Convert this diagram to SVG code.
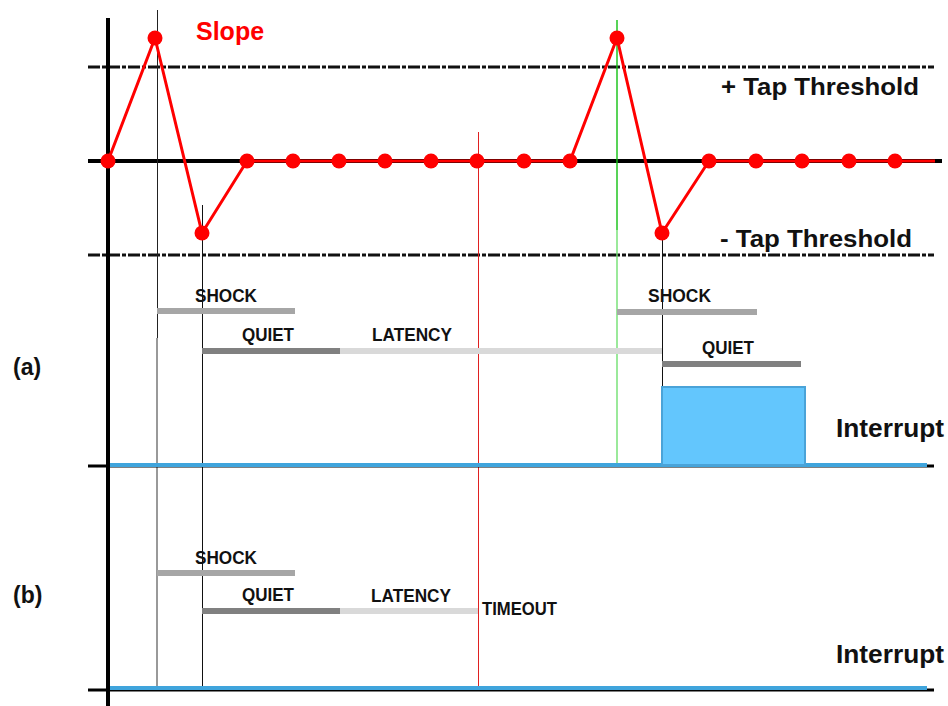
<svg xmlns="http://www.w3.org/2000/svg" width="948" height="706" viewBox="0 0 948 706">
<style>
.lbl{font-family:"Liberation Sans",Arial,sans-serif;font-weight:bold;font-size:18px;fill:#111}
.big{font-family:"Liberation Sans",Arial,sans-serif;font-weight:bold;font-size:23px;fill:#111}
.intr{font-family:"Liberation Sans",Arial,sans-serif;font-weight:bold;font-size:26px;fill:#111}
.dash{stroke:#111;stroke-width:3;stroke-dasharray:12 2 4 2;fill:none}
.shock{stroke:#a6a6a6;stroke-width:6}
.quiet{stroke:#808080;stroke-width:6}
.lat{stroke:#d9d9d9;stroke-width:6}
.dot{fill:#ff0000}
</style>
<rect width="948" height="706" fill="#ffffff"/>
<g id="axes">
<line class="dash" x1="88" y1="67" x2="934" y2="67"/>
<line class="dash" x1="88" y1="255" x2="934" y2="255"/>
<line x1="88" y1="161" x2="942" y2="161" stroke="#000" stroke-width="4"/>
<line x1="108" y1="18" x2="108" y2="706" stroke="#000" stroke-width="4"/>
</g>
<g id="markers">
<line x1="157.5" y1="10" x2="157.5" y2="338" stroke="#222" stroke-width="1"/>
<line x1="157" y1="338" x2="157" y2="690" stroke="#999" stroke-width="2"/>
<line x1="202.5" y1="205" x2="202.5" y2="690" stroke="#111" stroke-width="1"/>
<line x1="478.5" y1="132" x2="478.5" y2="690" stroke="#e02020" stroke-width="1"/>
<line x1="617" y1="20" x2="617" y2="230" stroke="#10c010" stroke-width="1.4"/>
<line x1="617" y1="230" x2="617" y2="466" stroke="#70e070" stroke-width="1.4"/>
<line x1="662.5" y1="230" x2="662.5" y2="466" stroke="#111" stroke-width="1"/>
</g>
<g id="slope">
<polyline points="108,161 155,38 202,233 247,161 570,161 617,38 662,233 709,161 935,161" fill="none" stroke="#ff0000" stroke-width="3" stroke-linejoin="round"/>
<circle class="dot" cx="108" cy="161" r="7.5"/>
<circle class="dot" cx="155" cy="38" r="7.5"/>
<circle class="dot" cx="202" cy="233" r="7.5"/>
<circle class="dot" cx="247" cy="161" r="7.5"/>
<circle class="dot" cx="293" cy="161" r="7.5"/>
<circle class="dot" cx="339" cy="161" r="7.5"/>
<circle class="dot" cx="385" cy="161" r="7.5"/>
<circle class="dot" cx="431" cy="161" r="7.5"/>
<circle class="dot" cx="477" cy="161" r="7.5"/>
<circle class="dot" cx="524" cy="161" r="7.5"/>
<circle class="dot" cx="570" cy="161" r="7.5"/>
<circle class="dot" cx="617" cy="38" r="7.5"/>
<circle class="dot" cx="662" cy="233" r="7.5"/>
<circle class="dot" cx="709" cy="161" r="7.5"/>
<circle class="dot" cx="756" cy="161" r="7.5"/>
<circle class="dot" cx="802" cy="161" r="7.5"/>
<circle class="dot" cx="849" cy="161" r="7.5"/>
<circle class="dot" cx="895" cy="161" r="7.5"/>
<text x="196" y="40" font-family="Liberation Sans,Arial,sans-serif" font-weight="bold" font-size="25" fill="#ff0000">Slope</text>
</g>
<g id="thresholds">
<text class="big" x="721" y="95" textLength="198" lengthAdjust="spacingAndGlyphs">+ Tap Threshold</text>
<text class="big" x="720" y="247" textLength="192" lengthAdjust="spacingAndGlyphs">- Tap Threshold</text>
</g>
<g id="case-a">
<line class="shock" x1="157" y1="311" x2="295" y2="311"/>
<line class="quiet" x1="202" y1="351" x2="340" y2="351"/>
<line class="lat" x1="340" y1="351" x2="662" y2="351"/>
<line class="shock" x1="617" y1="312" x2="757" y2="312"/>
<line class="quiet" x1="662" y1="364" x2="801" y2="364"/>
<text class="lbl" x="195" y="302" textLength="62" lengthAdjust="spacingAndGlyphs">SHOCK</text>
<text class="lbl" x="242" y="341" textLength="52" lengthAdjust="spacingAndGlyphs">QUIET</text>
<text class="lbl" x="372" y="341" textLength="80" lengthAdjust="spacingAndGlyphs">LATENCY</text>
<text class="lbl" x="648" y="302" textLength="63" lengthAdjust="spacingAndGlyphs">SHOCK</text>
<text class="lbl" x="702" y="354" textLength="52" lengthAdjust="spacingAndGlyphs">QUIET</text>
<line x1="88" y1="466" x2="934" y2="466" stroke="#000" stroke-width="3"/>
<line x1="110" y1="465" x2="927" y2="465" stroke="#3fa4dc" stroke-width="4"/>
<path d="M662,465 V387 H805 V465 Z" fill="#63c6fd" stroke="#4aa3d8" stroke-width="2"/>
<text class="intr" x="836" y="437" textLength="108" lengthAdjust="spacingAndGlyphs">Interrupt</text>
<text class="big" x="13" y="375">(a)</text>
</g>
<g id="case-b">
<line class="shock" x1="157" y1="573" x2="295" y2="573"/>
<line class="quiet" x1="202" y1="611" x2="340" y2="611"/>
<line class="lat" x1="340" y1="611" x2="478" y2="611"/>
<text class="lbl" x="195" y="564" textLength="62" lengthAdjust="spacingAndGlyphs">SHOCK</text>
<text class="lbl" x="242" y="601" textLength="52" lengthAdjust="spacingAndGlyphs">QUIET</text>
<text class="lbl" x="371" y="602" textLength="80" lengthAdjust="spacingAndGlyphs">LATENCY</text>
<text class="lbl" x="482" y="615" textLength="75" lengthAdjust="spacingAndGlyphs">TIMEOUT</text>
<line x1="88" y1="690" x2="934" y2="690" stroke="#000" stroke-width="3"/>
<line x1="110" y1="688" x2="927" y2="688" stroke="#3fa4dc" stroke-width="4"/>
<text class="intr" x="836" y="663" textLength="108" lengthAdjust="spacingAndGlyphs">Interrupt</text>
<text class="big" x="13" y="603">(b)</text>
</g>
</svg>
